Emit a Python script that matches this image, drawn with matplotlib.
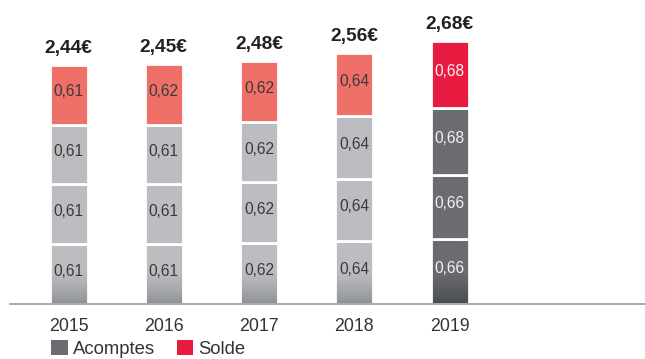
import numpy as np
import matplotlib
matplotlib.use("Agg")
import matplotlib.pyplot as plt
from matplotlib.colors import LinearSegmentedColormap
from matplotlib.patches import Patch

plt.rcParams['font.family'] = ['Liberation Sans', 'DejaVu Sans']

# Dividend per share, paid in three interim instalments plus a final balance
years = ["2015", "2016", "2017", "2018", "2019"]
acompte_1 = [0.61, 0.61, 0.62, 0.64, 0.66]
acompte_2 = [0.61, 0.61, 0.62, 0.64, 0.66]
acompte_3 = [0.61, 0.61, 0.62, 0.64, 0.68]
solde = [0.61, 0.62, 0.62, 0.64, 0.68]
totals = ["2,44€", "2,45€", "2,48€", "2,56€", "2,68€"]
legend_labels = ["Acomptes", "Solde"]

light_grey = "#bcbdc0"
light_grey_dark = "#909194"
dark_grey = "#6b6c70"
dark_grey_dark = "#4b4c4f"
light_red = "#ef6f69"
bright_red = "#e81b40"

W, H = 645, 359
fig = plt.figure(figsize=(W / 100, H / 100), dpi=100)
base_px = 304
ax = fig.add_axes([10 / W, (H - base_px) / H, 635 / W, base_px / H])

x = np.arange(len(years))
px_per_unit = 98.0
spacing = 95.25
first_center = 68.5
ax.set_xlim(-(first_center - 10) / spacing, (645 - first_center) / spacing)
ax.set_ylim(0, base_px / px_per_unit)

width = 38 / spacing
edge_lw = 2.0


def fmt(v):
    return f"{v:.2f}".replace(".", ",")


def gradient_segment(xc, h, top_col, bot_col):
    cmap = LinearSegmentedColormap.from_list("g", [top_col, bot_col])
    t = np.linspace(0, 1, 200)
    ramp = np.clip((t - 0.45) / 0.55, 0, 1) ** 1.3
    img = ramp[:, None]
    ax.imshow(img, cmap=cmap, vmin=0, vmax=1, aspect="auto",
              extent=[xc - width / 2, xc + width / 2, 0, h],
              origin="upper", zorder=2, interpolation="bilinear")


for i in range(len(years)):
    last = i == len(years) - 1
    ac_col = dark_grey if last else light_grey
    ac_dark = dark_grey_dark if last else light_grey_dark
    so_col = bright_red if last else light_red
    txt_col = "#f2f2f2" if last else "#3a3a3a"

    segs = [acompte_1[i], acompte_2[i], acompte_3[i], solde[i]]
    cols = [ac_col, ac_col, ac_col, so_col]
    bottom = 0.0
    for k, (v, c) in enumerate(zip(segs, cols)):
        if k == 0:
            gradient_segment(x[i], v, ac_col, ac_dark)
            ax.bar(x[i], v, width, bottom=bottom, facecolor="none",
                   edgecolor="white", linewidth=edge_lw, zorder=3)
        else:
            ax.bar(x[i], v, width, bottom=bottom, color=c,
                   edgecolor="white", linewidth=edge_lw, zorder=3)
        ax.annotate(fmt(v), (x[i], bottom + v / 2), xytext=(0, 2.2),
                    textcoords="offset points", ha="center", va="center",
                    fontsize=11.2, color=txt_col, zorder=4)
        bottom += v
    ax.annotate(totals[i], (x[i], bottom), xytext=(0, 12.0),
                textcoords="offset points", ha="center", va="center",
                fontsize=13.8, fontweight="bold", color="#222222")

for s in ["top", "right", "left"]:
    ax.spines[s].set_visible(False)
ax.spines["bottom"].set_color("#8a969e")
ax.spines["bottom"].set_linewidth(1.1)
ax.spines["bottom"].set_zorder(5)
ax.set_yticks([])
ax.set_xticks(x)
ax.set_xticklabels(years, fontsize=12.8, color="#333333")
ax.tick_params(axis="x", length=0, pad=10)

handles = [Patch(facecolor=dark_grey, edgecolor="none"),
           Patch(facecolor=bright_red, edgecolor="none")]
fig.legend(handles, legend_labels, loc="center left",
           bbox_to_anchor=(51 / W, (H - 349) / H), ncol=2, frameon=False,
           fontsize=13.3, handlelength=0.9, handleheight=0.9,
           handletextpad=0.3, columnspacing=1.15, labelcolor="#333333",
           borderaxespad=0, borderpad=0)

fig.savefig("out.png", dpi=100)
